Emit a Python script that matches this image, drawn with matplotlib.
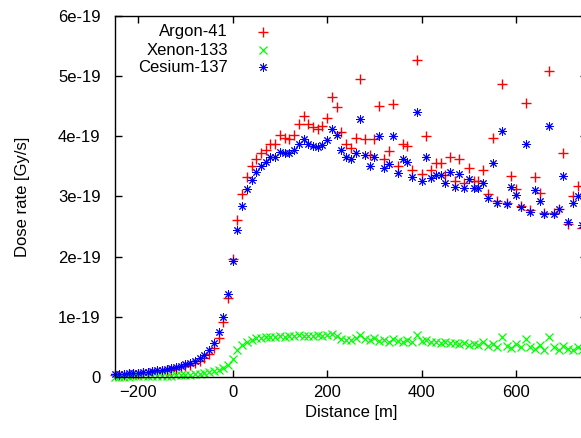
import numpy as np
import matplotlib
matplotlib.use("Agg")
import matplotlib.pyplot as plt

plt.rcParams['font.family'] = ['Liberation Sans', 'DejaVu Sans']

# distance grid [m]
distance = [-250, -240, -230, -220, -210, -200, -190, -180, -170, -160,
            -150, -140, -130, -120, -110, -100, -90, -80, -70, -60,
            -50, -40, -30, -20, -10, 0, 10, 20, 30, 40,
            50, 60, 70, 80, 90, 100, 110, 120, 130, 140,
            150, 160, 170, 180, 190, 200, 210, 220, 230, 240,
            250, 260, 270, 280, 290, 300, 310, 320, 330, 340,
            350, 360, 370, 380, 390, 400, 410, 420, 430, 440,
            450, 460, 470, 480, 490, 500, 510, 520, 530, 540,
            550, 560, 570, 580, 590, 600, 610, 620, 630, 640,
            650, 660, 670, 680, 690, 700, 710, 720, 730, 740]

# dose rates in units of 1e-19 Gy/s
argon41 = [0.03, 0.035, 0.04, 0.045, 0.05, 0.055, 0.06, 0.07, 0.08, 0.09,
           0.10, 0.11, 0.12, 0.14, 0.16, 0.18, 0.20, 0.23, 0.27, 0.31,
           0.38, 0.48, 0.65, 0.91, 1.31, 1.96, 2.61, 3.04, 3.32, 3.50,
           3.63, 3.72, 3.78, 3.88, 3.88, 4.02, 3.97, 3.95, 4.02, 4.20,
           4.34, 4.20, 4.16, 4.13, 4.18, 4.31, 4.65, 4.48, 4.08, 3.87,
           3.80, 3.98, 4.96, 3.95, 3.69, 3.95, 4.50, 3.63, 3.76, 4.54,
           3.51, 3.88, 3.84, 3.44, 5.27, 3.37, 4.00, 3.44, 3.56, 3.56,
           3.36, 3.65, 3.25, 3.63, 3.23, 3.48, 3.26, 3.26, 3.44, 3.04,
           3.98, 2.92, 4.87, 2.90, 3.34, 3.13, 2.85, 4.56, 2.78, 3.32,
           3.05, 2.73, 5.09, 2.73, 2.80, 3.73, 2.55, 3.00, 3.17, 2.47]

xenon133 = [0.005, 0.006, 0.007, 0.008, 0.009, 0.010, 0.011, 0.012, 0.014, 0.016,
            0.018, 0.020, 0.023, 0.026, 0.030, 0.034, 0.040, 0.046, 0.055, 0.065,
            0.08, 0.10, 0.12, 0.15, 0.20, 0.30, 0.45, 0.53, 0.58, 0.62,
            0.64, 0.65, 0.66, 0.67, 0.67, 0.68, 0.67, 0.68, 0.68, 0.69,
            0.68, 0.68, 0.68, 0.69, 0.68, 0.69, 0.71, 0.68, 0.63, 0.62,
            0.62, 0.65, 0.70, 0.63, 0.61, 0.64, 0.60, 0.62, 0.58, 0.63,
            0.60, 0.59, 0.62, 0.58, 0.70, 0.60, 0.62, 0.58, 0.59, 0.57,
            0.58, 0.56, 0.57, 0.55, 0.56, 0.54, 0.55, 0.53, 0.58, 0.52,
            0.55, 0.50, 0.66, 0.52, 0.48, 0.55, 0.50, 0.63, 0.50, 0.47,
            0.53, 0.45, 0.66, 0.50, 0.45, 0.52, 0.47, 0.45, 0.50, 0.45]

cesium137 = [0.045, 0.05, 0.055, 0.06, 0.065, 0.07, 0.08, 0.09, 0.10, 0.11,
             0.12, 0.13, 0.15, 0.17, 0.19, 0.21, 0.24, 0.27, 0.31, 0.36,
             0.45, 0.56, 0.75, 1.00, 1.38, 1.93, 2.45, 2.84, 3.12, 3.27,
             3.41, 3.51, 3.58, 3.65, 3.66, 3.74, 3.73, 3.73, 3.77, 3.88,
             3.95, 3.87, 3.84, 3.83, 3.85, 3.94, 4.13, 4.02, 3.78, 3.65,
             3.62, 3.72, 4.28, 3.69, 3.51, 3.66, 4.00, 3.47, 3.54, 4.00,
             3.39, 3.62, 3.58, 3.32, 4.41, 3.26, 3.65, 3.30, 3.36, 3.36,
             3.23, 3.41, 3.16, 3.37, 3.14, 3.29, 3.14, 3.14, 3.23, 2.97,
             3.56, 2.89, 4.09, 2.88, 3.15, 3.02, 2.82, 3.87, 2.75, 3.11,
             2.93, 2.71, 4.17, 2.71, 2.79, 3.34, 2.58, 2.89, 3.00, 2.53]

series = ['Argon-41', 'Xenon-133', 'Cesium-137']
colors = ['#ff0000', '#00ff00', '#0000ff']

yticks = [0, 1e-19, 2e-19, 3e-19, 4e-19, 5e-19, 6e-19]
ytick_labels = ['0', '1e-19', '2e-19', '3e-19', '4e-19', '5e-19', '6e-19']
xticks = [-200, 0, 200, 400, 600]

fs = 12
markers = ['+', 'x', (8, 2, 0)]
sizes = [6.5, 5.5, 6.0]
widths = [1.0, 0.9, 0.7]

fig = plt.figure(figsize=(5.81, 4.38), dpi=100)
ax = fig.add_axes([114.6 / 581, 61 / 438, 472.4 / 581, 361 / 438])

x = np.array(distance)
scale = 1e-19
for vals, c, m, sz, lw in zip([argon41, xenon133, cesium137], colors, markers, sizes, widths):
    ax.plot(x, np.array(vals) * scale, ls='none', marker=m, ms=sz, mew=lw,
            color=c, clip_on=False)

ax.set_xlim(-250, 750)
ax.set_ylim(0, 6e-19)
ax.set_xticks(xticks)
ax.set_yticks(yticks)
ax.set_yticklabels(ytick_labels)
ax.tick_params(direction='in', length=5, width=1, top=True, right=True,
               labelsize=fs, colors='black')
ax.tick_params(axis='y', pad=10)
ax.tick_params(axis='x', pad=6)
for s in ax.spines.values():
    s.set_linewidth(1)

ax.set_xlabel('Distance [m]', fontsize=fs, labelpad=3)
ax.set_ylabel('Dose rate [Gy/s]', fontsize=fs, labelpad=20)

# legend drawn by hand, gnuplot style (text right aligned, sample on right)
rows = [0.9557, 0.9058, 0.8587]
for name, c, m, sz, lw, yy in zip(series, colors, markers, sizes, widths, rows):
    ax.text(0.240, yy, name, transform=ax.transAxes, ha='right', va='center', fontsize=fs)
    ax.plot([0.314], [yy], transform=ax.transAxes, ls='none', marker=m, ms=sz, mew=lw, color=c)

fig.savefig('out.png', dpi=100)
